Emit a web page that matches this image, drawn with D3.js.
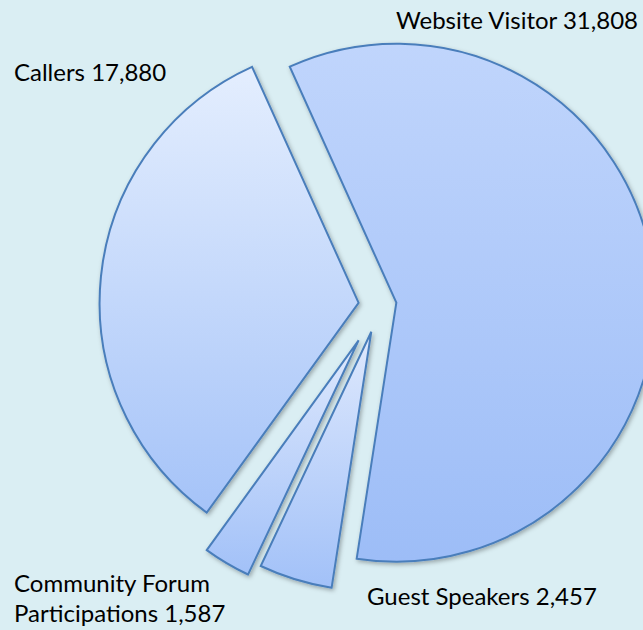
<!DOCTYPE html>
<html>
<head>
<meta charset="utf-8">
<script src="https://cdn.jsdelivr.net/npm/d3@7"></script>
<style>
  html, body { margin: 0; padding: 0; background: #daeef3; }
  svg { display: block; }
</style>
</head>
<body>
<svg id="chart" width="643" height="630"></svg>
<script>
// ---- data (in drawing order, clockwise) ----
const categories = ["Website Visitor", "Guest Speakers", "Community Forum Participations", "Callers"];
const values = [31808, 2457, 1587, 17880];
const labelLines = [
  ["Website Visitor 31,808"],
  ["Guest Speakers 2,457"],
  ["Community Forum", "Participations 1,587"],
  ["Callers 17,880"]
];

// ---- layout / style config ----
const W = 643, H = 630;
const cfg = {
  cx: 379.5, cy: 305, r: 259,
  startDeg: -24.3,
  explode: [17, 28, 41, 21],
  gradTop: ["#c0d5fc", "#dfe9fd", "#dfe9fd", "#e4eefe"],
  gradBot: ["#9dbdf7", "#a2c1f8", "#a2c1f8", "#a5c3f8"],
  labelPos: [[396, 29], [367, 605], [14, 592], [14, 81]],
  lineH: 30,
  font: "Lato, 'Open Sans', sans-serif",
  fontSize: 24
};

const svg = d3.select("#chart");
svg.append("rect").attr("width", W).attr("height", H).attr("fill", "#daeef3");

const defs = svg.append("defs");
const filt = defs.append("filter").attr("id", "shadow")
  .attr("x", "-10%").attr("y", "-10%").attr("width", "130%").attr("height", "130%");
filt.append("feDropShadow").attr("dx", 1.5).attr("dy", 2).attr("stdDeviation", 2)
  .attr("flood-color", "#000").attr("flood-opacity", 0.3);

categories.forEach((c, i) => {
  const g = defs.append("linearGradient").attr("id", "grad" + i)
    .attr("x1", 0).attr("y1", 0).attr("x2", 0).attr("y2", 1);
  g.append("stop").attr("offset", "0%").attr("stop-color", cfg.gradTop[i]);
  g.append("stop").attr("offset", "100%").attr("stop-color", cfg.gradBot[i]);
});

const a0 = cfg.startDeg * Math.PI / 180;
const pie = d3.pie().sort(null).value(d => d)
  .startAngle(a0).endAngle(a0 + 2 * Math.PI);
const arcs = pie(values);
const arc = d3.arc().innerRadius(0).outerRadius(cfg.r);

const root = svg.append("g").attr("transform", `translate(${cfg.cx},${cfg.cy})`);
root.selectAll("path.slice").data(arcs).join("path")
  .attr("class", "slice")
  .attr("d", arc)
  .attr("transform", (d, i) => {
    const mid = (d.startAngle + d.endAngle) / 2;
    const e = cfg.explode[i];
    return `translate(${e * Math.sin(mid)},${-e * Math.cos(mid)})`;
  })
  .attr("fill", (d, i) => `url(#grad${i})`)
  .attr("stroke", "#4a7ebb")
  .attr("stroke-width", 2)
  .attr("stroke-linejoin", "miter")
  .attr("filter", "url(#shadow)");

const labels = svg.append("g").attr("font-family", cfg.font)
  .attr("font-size", cfg.fontSize).attr("fill", "#000");
labelLines.forEach((lines, i) => {
  const t = labels.append("text")
    .attr("x", cfg.labelPos[i][0]).attr("y", cfg.labelPos[i][1]);
  lines.forEach((ln, j) => {
    t.append("tspan").attr("x", cfg.labelPos[i][0])
      .attr("dy", j === 0 ? 0 : cfg.lineH).text(ln);
  });
});
</script>
</body>
</html>
